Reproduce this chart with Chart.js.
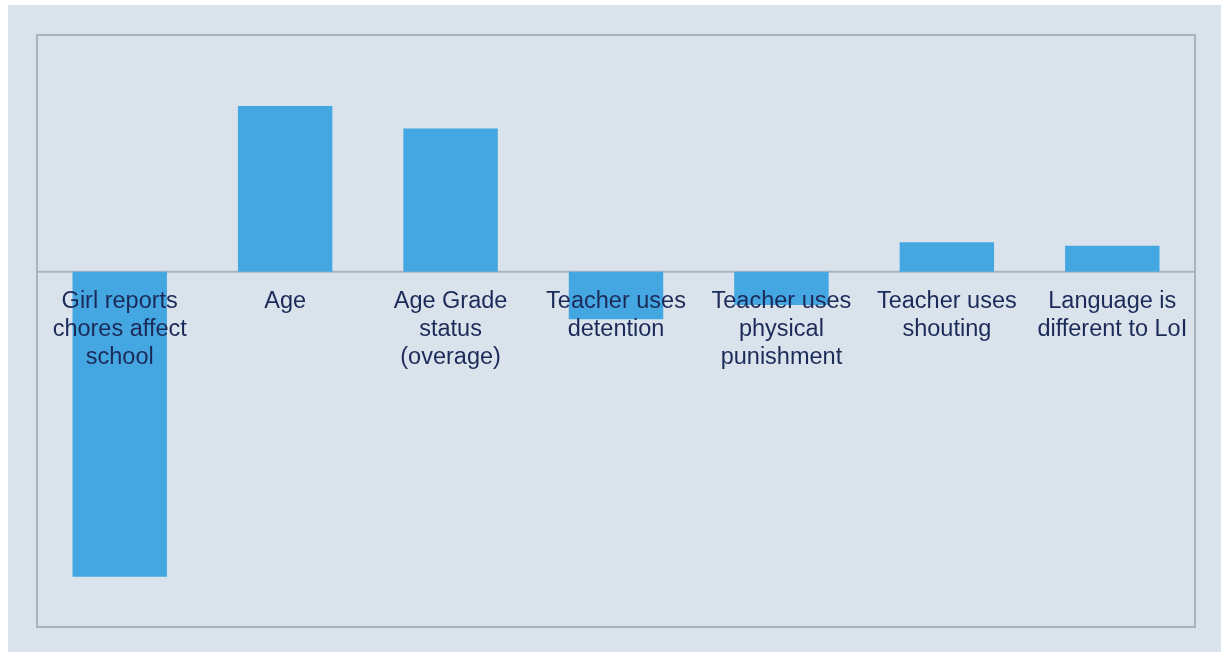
<!DOCTYPE html>
<html><head><meta charset="utf-8">
<script src="https://cdn.jsdelivr.net/npm/chart.js@4.4.0/dist/chart.umd.min.js"></script>
<style>html,body{margin:0;padding:0;background:#fff;}#wrap{width:1221px;height:652px;position:relative;}</style>
</head><body><div id="wrap"><canvas id="c" width="1221" height="652"></canvas></div>
<script>
const categories = [
  ["Girl reports","chores affect","school"],
  ["Age"],
  ["Age Grade","status","(overage)"],
  ["Teacher uses","detention"],
  ["Teacher uses","physical","punishment"],
  ["Teacher uses","shouting"],
  ["Language is","different to LoI"]
];
const values = [-0.2575, 0.140, 0.121, -0.040, -0.028, 0.025, 0.022];
const yMin = -0.3, yMax = 0.2;

const framePlugin = {
  id: 'frame',
  beforeDraw(chart) {
    const ctx = chart.ctx;
    ctx.save();
    ctx.fillStyle = '#dae3ec';
    ctx.fillRect(8, 5, chart.width - 8, chart.height - 5);
    const a = chart.chartArea;
    ctx.strokeStyle = '#aab4be';
    ctx.lineWidth = 2;
    ctx.strokeRect(a.left, a.top, a.right - a.left, a.bottom - a.top);
    const y0 = chart.scales.y.getPixelForValue(0);
    ctx.beginPath();
    ctx.moveTo(a.left, y0); ctx.lineTo(a.right, y0);
    ctx.stroke();
    ctx.restore();
  },
  afterDatasetsDraw(chart) {
    const ctx = chart.ctx;
    const xs = chart.scales.x, y0 = chart.scales.y.getPixelForValue(0);
    ctx.save();
    ctx.fillStyle = '#1b2a58';
    ctx.font = '23.5px "Liberation Sans", Arial, sans-serif';
    ctx.textAlign = 'center';
    ctx.textBaseline = 'alphabetic';
    categories.forEach((lines, i) => {
      const x = xs.getPixelForValue(i);
      lines.forEach((t, j) => ctx.fillText(t, x, y0 + 36.5 + j * 28));
    });
    ctx.restore();
  }
};

new Chart(document.getElementById('c'), {
  type: 'bar',
  data: {
    labels: categories.map(l => l.join(' ')),
    datasets: [{ data: values, backgroundColor: '#45a7e2', borderWidth: 0,
      barPercentage: 0.571, categoryPercentage: 1.0 }]
  },
  options: {
    responsive: false, animation: false,
    layout: { padding: { left: 37, right: 26, top: 35, bottom: 25 } },
    plugins: { legend: { display: false }, tooltip: { enabled: false } },
    scales: {
      x: { display: false },
      y: { display: false, min: yMin, max: yMax }
    }
  },
  plugins: [framePlugin]
});
</script></body></html>
